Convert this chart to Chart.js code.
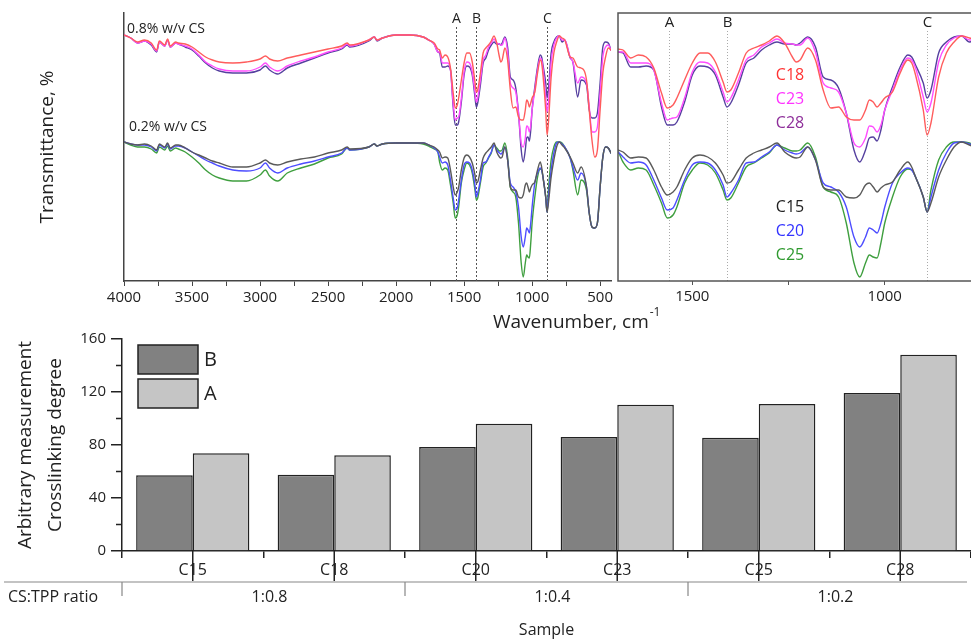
<!DOCTYPE html>
<html>
<head>
<meta charset="utf-8">
<script src="https://cdn.jsdelivr.net/npm/chart.js@4.4.1/dist/chart.umd.min.js"></script>
<style>
  html, body { margin: 0; padding: 0; background: #fff; overflow: hidden; }
  body { width: 971px; height: 640px; position: relative; }
  canvas { position: absolute; }
  #spectraFull { left: 0; top: 0; }
  #spectraZoom { left: 610px; top: 0; }
  #bars { left: 0; top: 320px; }
</style>
</head>
<body>
<canvas id="spectraFull" width="971" height="330"></canvas>
<canvas id="bars" width="971" height="320"></canvas>
<canvas id="spectraZoom" width="374" height="330"></canvas>

<script>
// FTIR spectra, wavenumber in cm-1 (transmittance in arbitrary offset units)
const wavenumbers = [4000,3950,3900,3850,3800,3760,3740,3700,3680,3660,3620,3600,3550,3500,3450,3400,3350,3300,3200,3100,3000,2960,2930,2870,2800,2700,2600,2500,2400,2360,2340,2200,2160,2140,2100,2000,1900,1800,1760,1720,1693,1680,1660,1640,1620,1600,1580,1565,1550,1540,1520,1500,1480,1460,1440,1420,1410,1400,1380,1360,1340,1320,1300,1280,1260,1240,1230,1220,1200,1180,1160,1140,1120,1100,1080,1065,1050,1040,1030,1020,1010,1000,980,960,940,930,920,900,890,880,860,840,820,800,780,760,720,700,665,640,600,580,560,540,520,500,480,460,440,420,410];

// 0.8% w/v CS
const c18 = [123,121.5,119.5,120.5,119,115.5,120,118,121,117.5, 119.5,119,118.5,117,114.5,112,110.5,109.5,109,109.5, 111,112.5,111,110,111.5,113,114.5,116,117.5,119, 118,120.5,122,120.5,121.5,123,123,122,120.5,119, 116,115.5,111.5,113,112,106.5,94,86.5,88,91.5, 100.5,109,114,114,109.5,99.5,94.5,95.5,104,114, 116.5,118,120,122.5,119,112,109.5,110.5,116.5,110.5, 95.5,86.5,87,82,80.5,80.5,85.5,90.5,89.5,87, 89,91.5,94.5,104,110.5,109,103,85.5,73,79, 102,114,119.5,122.5,121.5,120.5,112,111.5,107,106.5, 100.5,85.5,70.5,62,65.5,85.5,104,112,116.5,115.5,114.5];
const c23 = [123,121.5,119,120,118.5,115,119.5,117.5,120.5,117, 119,118.5,117.5,116,113,109.5,107.5,106,105,105, 107,109,107,105,107.5,110,112,114.5,116.5,118.5, 117.5,120.5,122,120.5,121.5,123,123,122,120.5,118.5, 114.5,114.5,109,109,109,105.5,89,80.5,81.5,82, 91.5,104.5,109.5,109,104.5,94.5,89.5,91.5,100.5,110.5, 113,117,119,121,119,118.5,118,118,121.5,114.5, 99,96.5,94.5,84,69,67,71.5,77.5,77,74.5, 78,85.5,95.5,105.5,111.5,110.5,106.5,92,84.5,89, 109.5,118,121.5,122.5,120.5,120.5,112,109.5,99,102, 99,87,74.5,74.5,77,94,112,117,118,115.5,114.5];
const c28 = [123,121.5,119,120,118,114.5,119.5,117.5,120.5,117, 119,118.5,117,115.5,112.5,109,106.5,105,104,104, 105.5,107.5,105.5,103.5,106.5,109,111.5,114,116,118, 117,120,122,120,121.5,123,123,122,120.5,118.5, 114.5,114,107,107,107.5,105.5,87,78,78,79.5, 89.5,103,107.5,107,103,92,87,89,98,109, 111.5,115.5,118,119.5,118.5,118.5,118,119,122,117, 102,100.5,96.5,84,65.5,59.5,65.5,71.5,72,70, 75.5,85.5,97,107,113,112,108,99,91.5,95.5, 114,119.5,122,122.5,119.5,120.5,111.5,109.5,92,100.5, 98,85.5,81.5,81.5,84,99,117,119.5,119,115.5,114.5];
// 0.2% w/v CS
const c15 = [69.5,68.5,68,68.5,67.5,65.5,68.5,67,69,66.5, 68,68,66.5,64.5,63,61.5,60,59,57,57, 59,60.5,59,58,59.5,61,62,64,65.5,67, 66,67,68.5,67.5,68.5,69,69,69,68,67, 65.5,64.5,61.5,62,61.5,55.5,47,43,44.5,47, 55.5,61.5,63,62,59,53,49,49.5,55.5,61.5, 64,65.5,67,69,64.5,62,61.5,62,67,60.5, 47,45.5,45.5,42,41.5,43,48,49,47,44.5, 46.5,48,49.5,55.5,59.5,57,52,42,34.5,39, 52,60.5,67,69.5,68,66.5,62,59,54,57, 47,34,27,26.5,29,47,62,67,66.5,64,63];
const c20 = [69.5,68.5,68,68,67,65,68,66.5,68.5,66, 67.5,67.5,66.5,64.5,62.5,60.5,59,57.5,55.5,55, 56.5,59,56.5,54,56.5,58.5,60,62,64,66.5, 65.5,67,68.5,67.5,68.5,69,69,69,68,66.5, 64.5,62,59,59.5,58,50.5,41.5,35.5,36.5,40.5, 50.5,58,59.5,59,55.5,48,42,44,50.5,59, 59.5,62,64.5,68,65.5,64,63.5,64,67,60.5, 49,47,44.5,37,22,17,22,26.5,25.5,24, 29,37,49,54,56.5,55.5,52,42,34.5,42, 55.5,64,69,69.5,68.5,67,61.5,57,50.5,54, 47,34,27,26.5,29,47,62,67,66.5,64,63];
const c25 = [69.5,68,67,67,66,64,67,65.5,67.5,65, 66.5,66,64.5,62,59,55.5,53,51.5,50,50, 53,55.5,52.5,50,54,56.5,58.5,61.5,63.5,66.5, 65.5,67,68.5,67.5,68.5,69,69,68.5,67.5,66, 64.5,59.5,55.5,56.5,55.5,48,39,31.5,33,37, 49,55.5,59,58,54,45.5,40.5,41.5,49,57, 59,61.5,64,68,66.5,65,65,65.5,69,62, 47,44.5,42,29,9,2,9,13,12,11.5, 19,29,42,52,56,55.5,52,42,34.5,45.5, 60.5,67,69.5,69.5,69,67,61.5,55.5,43,50.5, 45.5,34,27,26.5,29,47,62,67,66.5,64,63];

const seriesNames = ['C18', 'C23', 'C28', 'C15', 'C20', 'C25'];
const seriesValues = [c18, c23, c28, c15, c20, c25];
const lineColors = ['#ff5c5c', '#ff4dff', '#55409f', '#5a5a5a', '#4d4dff', '#3f9f3f'];
const nameColors = ['#ff3333', '#ff33ff', '#8e2f9a', '#222222', '#3333ff', '#2f9a2f'];

const bandPos = [1560, 1410, 890];
const bandNames = ['A', 'B', 'C'];
const fullTicks = [4000, 3750, 3500, 3250, 3000, 2750, 2500, 2250, 2000, 1750, 1500, 1250, 1000, 750, 500];
const zoomTicks = [1500, 1250, 1000, 750];

// crosslinking degree
const samples = ['C15', 'C18', 'C20', 'C23', 'C25', 'C28'];
const peakB = [57.1, 57.6, 78.5, 86.0, 85.5, 119.2];
const peakA = [73.7, 72.2, 96.1, 110.4, 110.9, 148.2];
const ratioGroups = ['1:0.8', '1:0.4', '1:0.2'];
const barTicks = [0, 40, 80, 120, 160];
const minorBarTicks = [20, 60, 100, 140];

const FONT = "'Open Sans', sans-serif";
Chart.defaults.font.family = FONT;
Chart.defaults.color = '#222';

function spectraSets() {
    return seriesValues.map((vals, i) => ({
        label: seriesNames[i],
        data: wavenumbers.map((w, j) => ({ x: w, y: vals[j] })),
        borderColor: lineColors[i],
        borderWidth: 1.4,
        pointRadius: 0,
        cubicInterpolationMode: 'monotone',
        fill: false
    }));
}

// text drawn on the canvas (optional superscript right after the text)
const notesPlugin = {
    id: 'notes',
    afterDraw(chart, args, opts) {
        const ctx = chart.ctx;
        (opts.items || []).forEach(t => {
            ctx.save();
            ctx.font = t.font;
            ctx.fillStyle = t.color || '#222';
            ctx.textAlign = t.align || 'left';
            ctx.textBaseline = 'middle';
            ctx.fillText(t.text, t.x, t.y);
            if (t.sup) {
                const w = ctx.measureText(t.text).width;
                ctx.font = t.supFont;
                ctx.textAlign = 'left';
                ctx.fillText(t.sup, t.x + w + 1, t.y - 10);
            }
            ctx.restore();
        });
    }
};

// dotted band markers A, B, C
const bandPlugin = {
    id: 'bands',
    beforeDatasetsDraw(chart, args, opts) {
        const { ctx, chartArea, scales: { x } } = chart;
        bandPos.forEach((w, i) => {
            const px = Math.round(x.getPixelForValue(w)) + 0.5;
            ctx.save();
            ctx.strokeStyle = opts.color;
            ctx.lineWidth = 1;
            ctx.setLineDash(opts.dash);
            ctx.beginPath();
            ctx.moveTo(px, opts.top);
            ctx.lineTo(px, chartArea.bottom);
            ctx.stroke();
            ctx.setLineDash([]);
            ctx.fillStyle = '#222';
            ctx.font = opts.font;
            ctx.textAlign = 'center';
            ctx.textBaseline = 'middle';
            ctx.fillText(bandNames[i], px, opts.labelY);
            ctx.restore();
        });
    }
};

const framePlugin = {
    id: 'frame',
    afterDraw(chart) {
        const { ctx, chartArea: a } = chart;
        ctx.save();
        ctx.strokeStyle = '#555';
        ctx.lineWidth = 1.5;
        ctx.strokeRect(a.left, a.top, a.right - a.left, a.bottom - a.top);
        ctx.restore();
    }
};

// full range spectra
new Chart(document.getElementById('spectraFull'), {
    type: 'line',
    data: { datasets: spectraSets() },
    plugins: [bandPlugin, notesPlugin],
    options: {
        responsive: false,
        animation: false,
        layout: { padding: { top: 13, right: 360, left: 0, bottom: 0 } },
        plugins: {
            legend: { display: false },
            tooltip: { enabled: false },
            bands: { color: '#555', dash: [2, 2], top: 27, labelY: 19, font: "14px " + FONT },
            notes: {
                items: [
                    { text: '0.8% w/v CS', x: 127, y: 29, font: "14px " + FONT },
                    { text: '0.2% w/v CS', x: 129, y: 127, font: "14px " + FONT },
                    { text: 'Wavenumber, cm', x: 493, y: 323, font: "19px " + FONT, sup: '-1', supFont: "12px " + FONT }
                ]
            }
        },
        scales: {
            x: {
                type: 'linear', reverse: true, min: 420, max: 4000,
                afterBuildTicks: s => { s.ticks = fullTicks.map(v => ({ value: v })); },
                afterFit: s => { s.height = 49; },
                ticks: { autoSkip: false, maxRotation: 0, padding: 3, font: { size: 15 },
                    callback: v => (v % 500 === 0 ? String(v) : '') },
                grid: { drawOnChartArea: false, tickLength: 5, color: '#444' },
                border: { color: '#444', width: 1.5 }
            },
            y: {
                min: 0, max: 134,
                afterFit: s => { s.width = 124; },
                ticks: { display: false },
                grid: { display: false },
                border: { color: '#444', width: 1.5 },
                title: { display: true, text: 'Transmittance, %', font: { size: 19 }, padding: { top: 36, bottom: 0 } }
            }
        }
    }
});

// zoomed fingerprint region
new Chart(document.getElementById('spectraZoom'), {
    type: 'line',
    data: { datasets: spectraSets() },
    plugins: [bandPlugin, framePlugin, notesPlugin],
    options: {
        responsive: false,
        animation: false,
        layout: { padding: { top: 13, right: 2, left: 8, bottom: 0 } },
        plugins: {
            legend: { display: false },
            tooltip: { enabled: false },
            bands: { color: '#aaa', dash: [1, 2], top: 31, labelY: 23, font: "15px " + FONT },
            notes: {
                items: seriesNames.map((n, i) => ({
                    text: n, x: 180, y: [75, 99, 123, 207, 231, 255][i],
                    font: "16px " + FONT, color: nameColors[i], align: 'center'
                }))
            }
        },
        scales: {
            x: {
                type: 'linear', reverse: true, min: 750, max: 1693,
                afterBuildTicks: s => { s.ticks = zoomTicks.map(v => ({ value: v })); },
                afterFit: s => { s.height = 49; },
                ticks: { autoSkip: false, maxRotation: 0, padding: 3, font: { size: 15 },
                    callback: v => (v % 500 === 0 ? String(v) : '') },
                grid: { drawOnChartArea: false, tickLength: 4, color: '#555' },
                border: { display: false }
            },
            y: { display: false, min: 0, max: 134 }
        }
    }
});

// legend boxes inside plot
const barLegendPlugin = {
    id: 'barLegend',
    afterDraw(chart) {
        const { ctx, chartArea: a } = chart;
        chart.data.datasets.forEach((ds, i) => {
            const x = a.left + 16, y = a.top + 6 + i * 34;
            ctx.save();
            ctx.fillStyle = ds.backgroundColor;
            ctx.fillRect(x, y, 60, 29);
            ctx.strokeStyle = '#222';
            ctx.lineWidth = 1.5;
            ctx.strokeRect(x, y, 60, 29);
            ctx.fillStyle = '#222';
            ctx.font = "20px " + FONT;
            ctx.textBaseline = 'middle';
            ctx.fillText(ds.label, x + 66, y + 15);
            ctx.restore();
        });
    }
};

// minor y ticks, sample center lines and CS:TPP ratio row
const ratioRowPlugin = {
    id: 'ratioRow',
    afterDraw(chart) {
        const { ctx, chartArea: a, scales: { x, y } } = chart;
        const step = x.getPixelForValue(1) - x.getPixelForValue(0);
        const rowY = a.bottom + 31;
        ctx.save();
        ctx.strokeStyle = '#222';
        ctx.lineWidth = 1.5;
        ctx.beginPath();
        minorBarTicks.forEach(v => {
            const py = y.getPixelForValue(v);
            ctx.moveTo(a.left - 6, py);
            ctx.lineTo(a.left, py);
        });
        samples.forEach((s, i) => {
            const px = x.getPixelForValue(i);
            ctx.moveTo(px, a.bottom);
            ctx.lineTo(px, rowY - 1);
        });
        ctx.stroke();

        ctx.strokeStyle = '#888';
        ctx.lineWidth = 1.2;
        ctx.beginPath();
        ctx.moveTo(4, rowY);
        ctx.lineTo(967, rowY);
        ratioGroups.forEach((g, k) => {
            const px = x.getPixelForValue(k * 2) - step / 2;
            ctx.moveTo(px, rowY);
            ctx.lineTo(px, rowY + 14);
        });
        ctx.stroke();

        ctx.fillStyle = '#222';
        ctx.font = "16px " + FONT;
        ctx.textBaseline = 'middle';
        ctx.textAlign = 'left';
        ctx.fillText('CS:TPP ratio', 8, rowY + 15);
        ctx.textAlign = 'center';
        ratioGroups.forEach((g, k) => {
            const cx = (x.getPixelForValue(k * 2) + x.getPixelForValue(k * 2 + 1)) / 2;
            ctx.fillText(g, cx + 6, rowY + 15);
        });
        ctx.restore();
    }
};

new Chart(document.getElementById('bars'), {
    type: 'bar',
    data: {
        labels: samples,
        datasets: [
            { label: 'B', data: peakB, backgroundColor: '#818181', borderColor: '#222', borderWidth: 1.5 },
            { label: 'A', data: peakA, backgroundColor: '#c5c5c5', borderColor: '#222', borderWidth: 1.5 }
        ]
    },
    plugins: [barLegendPlugin, ratioRowPlugin],
    options: {
        responsive: false,
        animation: false,
        layout: { padding: { top: 19, right: 0, left: 0, bottom: 0 } },
        datasets: { bar: { categoryPercentage: 0.8, barPercentage: 1.0 } },
        plugins: { legend: { display: false }, tooltip: { enabled: false } },
        scales: {
            x: {
                offset: true,
                afterFit: s => { s.height = 89; },
                ticks: { font: { size: 16 }, padding: 3 },
                grid: { offset: true, drawOnChartArea: false, tickLength: 7, color: '#222', lineWidth: 1.5 },
                border: { color: '#222', width: 1.5 },
                title: { display: true, text: 'Sample', font: { size: 16 }, padding: { top: 0, bottom: 0 } }
            },
            y: {
                min: 0, max: 160,
                afterFit: s => { s.width = 122; },
                afterBuildTicks: s => { s.ticks = barTicks.map(v => ({ value: v })); },
                ticks: { font: { size: 15 }, padding: 5 },
                grid: { drawOnChartArea: false, tickLength: 11, color: '#222', lineWidth: 1.5 },
                border: { color: '#222', width: 1.5 },
                title: {
                    display: true,
                    text: ['Arbitrary measurement', 'Crosslinking degree'],
                    font: { size: 19, lineHeight: 1.6 },
                    padding: { top: 10, bottom: 0 }
                }
            }
        }
    }
});
</script>
</body>
</html>
